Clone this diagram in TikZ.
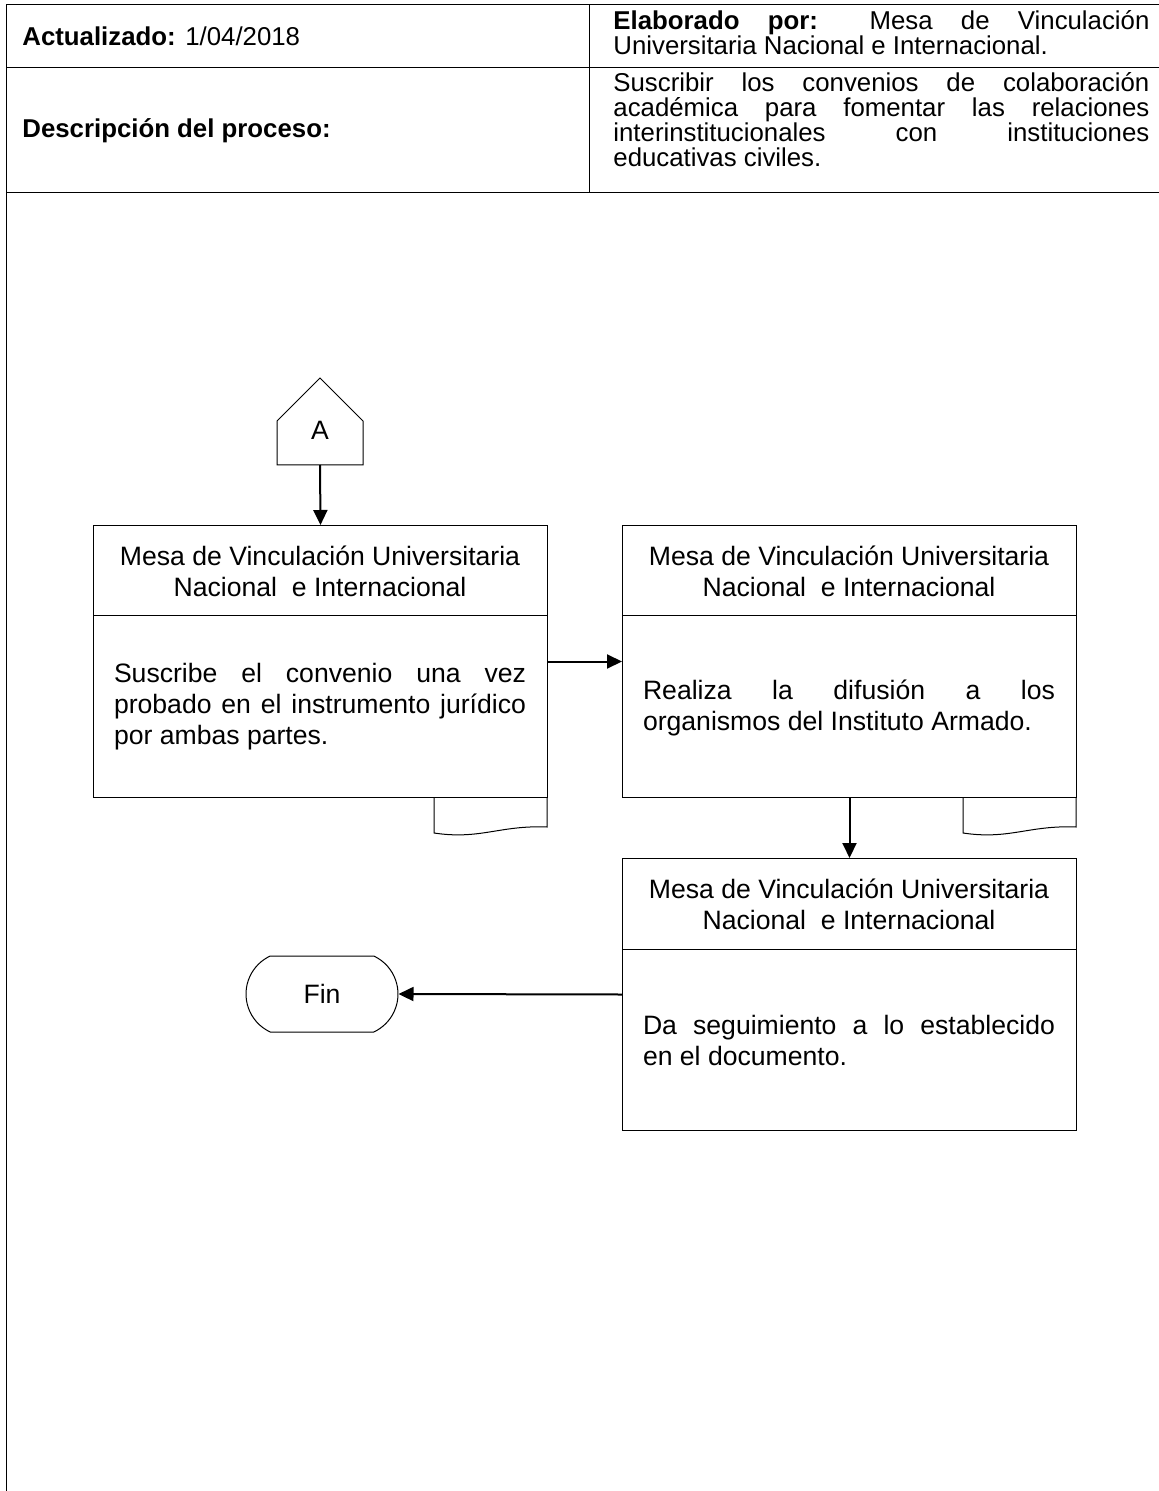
\documentclass[tikz,border=0pt]{standalone}
\usepackage{fontspec}
\setmainfont{Liberation Sans}
\usetikzlibrary{arrows.meta,shapes.misc}

\tikzset{
  procbox/.style={draw, line width=0.5pt, rectangle, anchor=north west,
    minimum width=227pt, minimum height=136pt, inner sep=0pt},
  titletext/.style={inner sep=0pt, align=center,
    font=\fontsize{13.3}{15.5}\selectfont},
  bodytext/.style={inner sep=0pt, text width=206pt, align=justify,
    font=\fontsize{13.3}{15.5}\selectfont},
  headtext/.style={inner sep=0pt, font=\fontsize{12.9}{12.5}\selectfont},
  termbox/.style={draw, line width=0.5pt, rounded rectangle,
    rounded rectangle arc length=130, minimum width=76pt, minimum height=38pt,
    inner sep=0pt, font=\fontsize{13.3}{15.5}\selectfont},
  flow/.style={line width=1pt, -{Triangle[length=7.5pt,width=7pt]}}
}

\begin{document}
\begin{tikzpicture}[x=0.5pt, y=-0.5pt]
    \useasboundingbox (0,0) rectangle (1159,1491);
    % Header table
    \draw[line width=0.5pt] (6,5) -- (1159,5);
    \draw[line width=0.5pt] (6,68) -- (1159,68);
    \draw[line width=0.5pt] (6,193) -- (1159,193);
    \draw[line width=0.5pt] (6,5) -- (6,1491);
    \draw[line width=0.5pt] (589,5) -- (589,193);
    \node[headtext, anchor=west] (upd) at (22,36.5) {\textbf{Actualizado:} 1/04/2018};
    \node[headtext, anchor=west] (desc) at (22,130.5) {\textbf{Descripción del proceso:}};
    \node[headtext, anchor=north west, text width=268pt, align=justify] (elab) at (613,10)
      {\textbf{Elaborado por:} Mesa de Vinculación\linebreak Universitaria Nacional e Internacional.};
    \node[headtext, anchor=north west, text width=268pt, align=justify] (obj) at (613,72)
      {Suscribir los convenios de colaboración\linebreak académica para fomentar las relaciones\linebreak
       interinstitucionales con instituciones\linebreak educativas civiles.};
    % Off-page connector
    \draw[line width=0.5pt] (277,465) -- (277,421) -- (320,378) -- (363,421) -- (363,465) -- cycle;
    \node[titletext] (conAt) at (320,430) {A};
    \coordinate (conA) at (320,465);
    % Process boxes
    \node[procbox] (mesa1) at (93,525) {};
    \node[procbox] (mesa2) at (622,525) {};
    \node[procbox] (mesa3) at (622,858) {};
    \draw[line width=0.5pt] (mesa1.north west) ++(0,90) -- ++(454,0);
    \draw[line width=0.5pt] (mesa2.north west) ++(0,90) -- ++(454,0);
    \draw[line width=0.5pt] (mesa3.north west) ++(0,91) -- ++(454,0);
    \node[titletext] (mesa1t) at (320,571) {Mesa de Vinculación Universitaria\\Nacional\ \ e Internacional};
    \node[titletext] (mesa2t) at (849,571) {Mesa de Vinculación Universitaria\\Nacional\ \ e Internacional};
    \node[titletext] (mesa3t) at (849,904) {Mesa de Vinculación Universitaria\\Nacional\ \ e Internacional};
    \node[bodytext] (mesa1b) at (320,707)
      {Suscribe el convenio una vez\linebreak probado en el instrumento jurídico\linebreak por ambas partes.};
    \node[bodytext] (mesa2b) at (849,708)
      {Realiza la difusión a los\linebreak organismos del Instituto Armado.};
    \node[bodytext] (mesa3b) at (849,1040)
      {Da seguimiento a lo establecido\linebreak en el documento.};
    % Document tabs
    \draw[line width=0.5pt] (434,797) -- (434,833) .. controls (480,840) and (500,825) .. (547,827) -- (547,797);
    \draw[line width=0.5pt] (963,797) -- (963,833) .. controls (1009,840) and (1029,825) .. (1076,827) -- (1076,797);
    % Terminator
    \node[termbox] (fin) at (322,994) {Fin};
    % Connectors
    \draw[flow] (conA) -- (mesa1.north);
    \draw[flow] (mesa1.east) -- (mesa2.west);
    \draw[flow] (mesa2.south) -- (mesa3.north);
    \draw[flow] (mesa3.west) -- (fin.east);
\end{tikzpicture}
\end{document}
